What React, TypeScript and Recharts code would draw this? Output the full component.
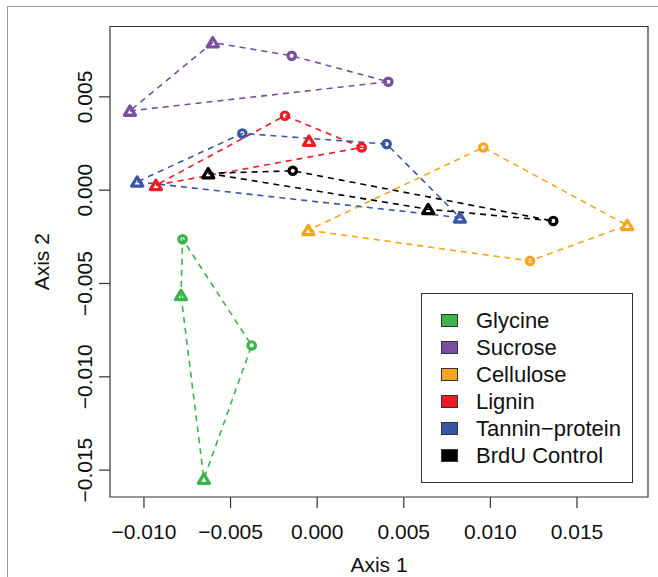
import React from 'react';
import { ScatterChart, Scatter, XAxis, YAxis, ReferenceArea, Legend } from 'recharts';

type Pt = { x: number; y: number; m: 'o' | '^' };

const glycine: Pt[] = [
  { x: -0.00777, y: -0.00263, m: 'o' },
  { x: -0.00786, y: -0.00563, m: '^' },
  { x: -0.00378, y: -0.00832, m: 'o' },
  { x: -0.00654, y: -0.01547, m: '^' },
];
const sucrose: Pt[] = [
  { x: -0.00603, y: 0.00791, m: '^' },
  { x: -0.00147, y: 0.0072, m: 'o' },
  { x: 0.00411, y: 0.00581, m: 'o' },
  { x: -0.01081, y: 0.00425, m: '^' },
];
const cellulose: Pt[] = [
  { x: -0.00051, y: -0.00215, m: '^' },
  { x: 0.00959, y: 0.00229, m: 'o' },
  { x: 0.0179, y: -0.00188, m: '^' },
  { x: 0.01229, y: -0.00379, m: 'o' },
];
const lignin: Pt[] = [
  { x: -0.00186, y: 0.00399, m: 'o' },
  { x: -0.00047, y: 0.00264, m: '^' },
  { x: 0.00257, y: 0.00229, m: 'o' },
  { x: -0.00931, y: 0.00027, m: '^' },
];
const tannin: Pt[] = [
  { x: -0.01039, y: 0.00045, m: '^' },
  { x: -0.00432, y: 0.00304, m: 'o' },
  { x: 0.00401, y: 0.00247, m: 'o' },
  { x: 0.00824, y: -0.00147, m: '^' },
];
const brdu: Pt[] = [
  { x: -0.00629, y: 0.0009, m: '^' },
  { x: -0.00141, y: 0.00104, m: 'o' },
  { x: 0.00641, y: -0.00102, m: '^' },
  { x: 0.01363, y: -0.00165, m: 'o' },
];

const groupNames = ['Glycine', 'Sucrose', 'Cellulose', 'Lignin', 'Tannin\u2212protein', 'BrdU Control'];
const groupColors = ['#3BB44A', '#7A4FA0', '#F9A51B', '#EC1C24', '#3A55A5', '#000000'];
const groupData = [glycine, sucrose, cellulose, lignin, tannin, brdu];

const xTicks = [-0.01, -0.005, 0, 0.005, 0.01, 0.015];
const xTickLabels = ['\u22120.010', '\u22120.005', '0.000', '0.005', '0.010', '0.015'];
const yTicks = [0.005, 0, -0.005, -0.01, -0.015];
const yTickLabels = ['0.005', '0.000', '\u22120.005', '\u22120.010', '\u22120.015'];

const xDomain = [-0.01196, 0.0191];
const yDomain = [-0.01644, 0.00877];

const FONT = '"Liberation Sans", Arial, Helvetica, sans-serif';

function hull(pts: Pt[]): Pt[] {
  const p = [...pts].sort((a, b) => a.x - b.x || a.y - b.y);
  const cross = (o: Pt, a: Pt, b: Pt) => (a.x - o.x) * (b.y - o.y) - (a.y - o.y) * (b.x - o.x);
  const lower: Pt[] = [];
  for (const q of p) {
    while (lower.length >= 2 && cross(lower[lower.length - 2], lower[lower.length - 1], q) <= 0) lower.pop();
    lower.push(q);
  }
  const upper: Pt[] = [];
  for (let i = p.length - 1; i >= 0; i--) {
    const q = p[i];
    while (upper.length >= 2 && cross(upper[upper.length - 2], upper[upper.length - 1], q) <= 0) upper.pop();
    upper.push(q);
  }
  upper.pop();
  lower.pop();
  const h = lower.concat(upper);
  return [...h, h[0]];
}

const makeShape = (color: string) => (props: any) => {
  const { cx, cy, payload } = props;
  if (cx == null || cy == null) return <g />;
  if (payload && payload.m === '^') {
    return (
      <path
        d={`M${cx},${cy - 4.8} L${cx + 5.5},${cy + 4.4} L${cx - 5.5},${cy + 4.4} Z`}
        fill="none"
        stroke={color}
        strokeWidth={3.3}
        strokeLinejoin="round"
      />
    );
  }
  return <circle cx={cx} cy={cy} r={3.7} fill="none" stroke={color} strokeWidth={3.2} />;
};

const emptyShape = () => <g />;

const XTick = (props: any) => {
  const { x, y, payload } = props;
  const i = xTicks.indexOf(payload.value);
  return (
    <text x={x} y={y + 29} textAnchor="middle" fontFamily={FONT} fontSize={21} fill="#111">
      {xTickLabels[i]}
    </text>
  );
};

const YTick = (props: any) => {
  const { x, y, payload } = props;
  const i = yTicks.indexOf(payload.value);
  const bx = x - 5;
  return (
    <text
      x={bx}
      y={y}
      transform={`rotate(-90, ${bx}, ${y})`}
      textAnchor="middle"
      fontFamily={FONT}
      fontSize={21}
      fill="#111"
    >
      {yTickLabels[i]}
    </text>
  );
};

const XTitle = (props: any) => {
  const vb = props.viewBox || { x: 110, y: 497, width: 538, height: 60 };
  return (
    <text x={vb.x + vb.width / 2} y={vb.y + vb.height + 14.5} textAnchor="middle" fontFamily={FONT} fontSize={21} fill="#111">
      Axis 1
    </text>
  );
};

const YTitle = (props: any) => {
  const vb = props.viewBox || { x: 50, y: 26.5, width: 60, height: 470.5 };
  const bx = vb.x - 1;
  const cy = vb.y + vb.height / 2;
  return (
    <text x={bx} y={cy} transform={`rotate(-90, ${bx}, ${cy})`} textAnchor="middle" fontFamily={FONT} fontSize={21} fill="#111">
      Axis 2
    </text>
  );
};

const LegendBox = () => (
  <div
    style={{
      boxSizing: 'border-box',
      width: 212,
      height: 190,
      border: '1px solid #333',
      background: '#fff',
      paddingTop: 13,
      fontFamily: FONT,
      fontSize: 22,
      color: '#111',
      textAlign: 'left',
    }}
  >
    {groupNames.map((n, i) => (
      <div key={n} style={{ display: 'flex', alignItems: 'center', height: 27, lineHeight: '27px' }}>
        <span
          style={{
            display: 'inline-block',
            boxSizing: 'border-box',
            width: 17,
            height: 13,
            marginLeft: 19,
            marginRight: 18,
            background: groupColors[i],
            border: '1px solid #333',
            flex: '0 0 auto',
          }}
        />
        <span style={{ whiteSpace: 'nowrap' }}>{n}</span>
      </div>
    ))}
  </div>
);

export default function App() {
  return (
    <div style={{ position: 'absolute', left: 0, top: 0, width: 658, height: 577, overflow: 'hidden', background: '#fff' }}>
      <div
        style={{
          position: 'absolute',
          left: 7,
          top: 6,
          width: 720,
          height: 720,
          border: '1.3px solid #9a9a9a',
        }}
      />
      <div style={{ position: 'absolute', left: 0, top: 0 }}>
        <ScatterChart width={658} height={577} margin={{ top: 26.5, right: 10, bottom: 20, left: 50 }}>
          <XAxis
            type="number"
            dataKey="x"
            domain={xDomain}
            ticks={xTicks}
            interval={0}
            allowDataOverflow
            axisLine={false}
            tickSize={11}
            tickLine={{ stroke: '#333', strokeWidth: 1.2 }}
            tick={<XTick />}
            height={60}
            label={<XTitle />}
          />
          <YAxis
            type="number"
            dataKey="y"
            domain={yDomain}
            ticks={yTicks}
            interval={0}
            allowDataOverflow
            axisLine={false}
            tickSize={11}
            tickLine={{ stroke: '#333', strokeWidth: 1.2 }}
            tick={<YTick />}
            width={60}
            label={<YTitle />}
          />
          <ReferenceArea
            x1={xDomain[0]}
            x2={xDomain[1]}
            y1={yDomain[0]}
            y2={yDomain[1]}
            stroke="#333"
            strokeWidth={1.2}
            fill="none"
            fillOpacity={0}
            ifOverflow="visible"
          />
          {groupData.map((d, i) => (
            <Scatter
              key={`hull-${i}`}
              name={`${groupNames[i]} hull`}
              data={hull(d)}
              line={{ stroke: groupColors[i], strokeWidth: 1.6, strokeDasharray: '6 5' }}
              lineType="joint"
              shape={emptyShape}
              fill={groupColors[i]}
              isAnimationActive={false}
              legendType="none"
            />
          ))}
          {groupData.map((d, i) => (
            <Scatter
              key={`pts-${i}`}
              name={groupNames[i]}
              data={d}
              shape={makeShape(groupColors[i])}
              fill={groupColors[i]}
              isAnimationActive={false}
            />
          ))}
          <Legend
            layout="horizontal"
            verticalAlign="middle"
            align="center"
            content={<LegendBox />}
            wrapperStyle={{ position: 'absolute', left: 421, top: 293, width: 212, height: 190, margin: 0, padding: 0 }}
          />
        </ScatterChart>
      </div>
    </div>
  );
}
